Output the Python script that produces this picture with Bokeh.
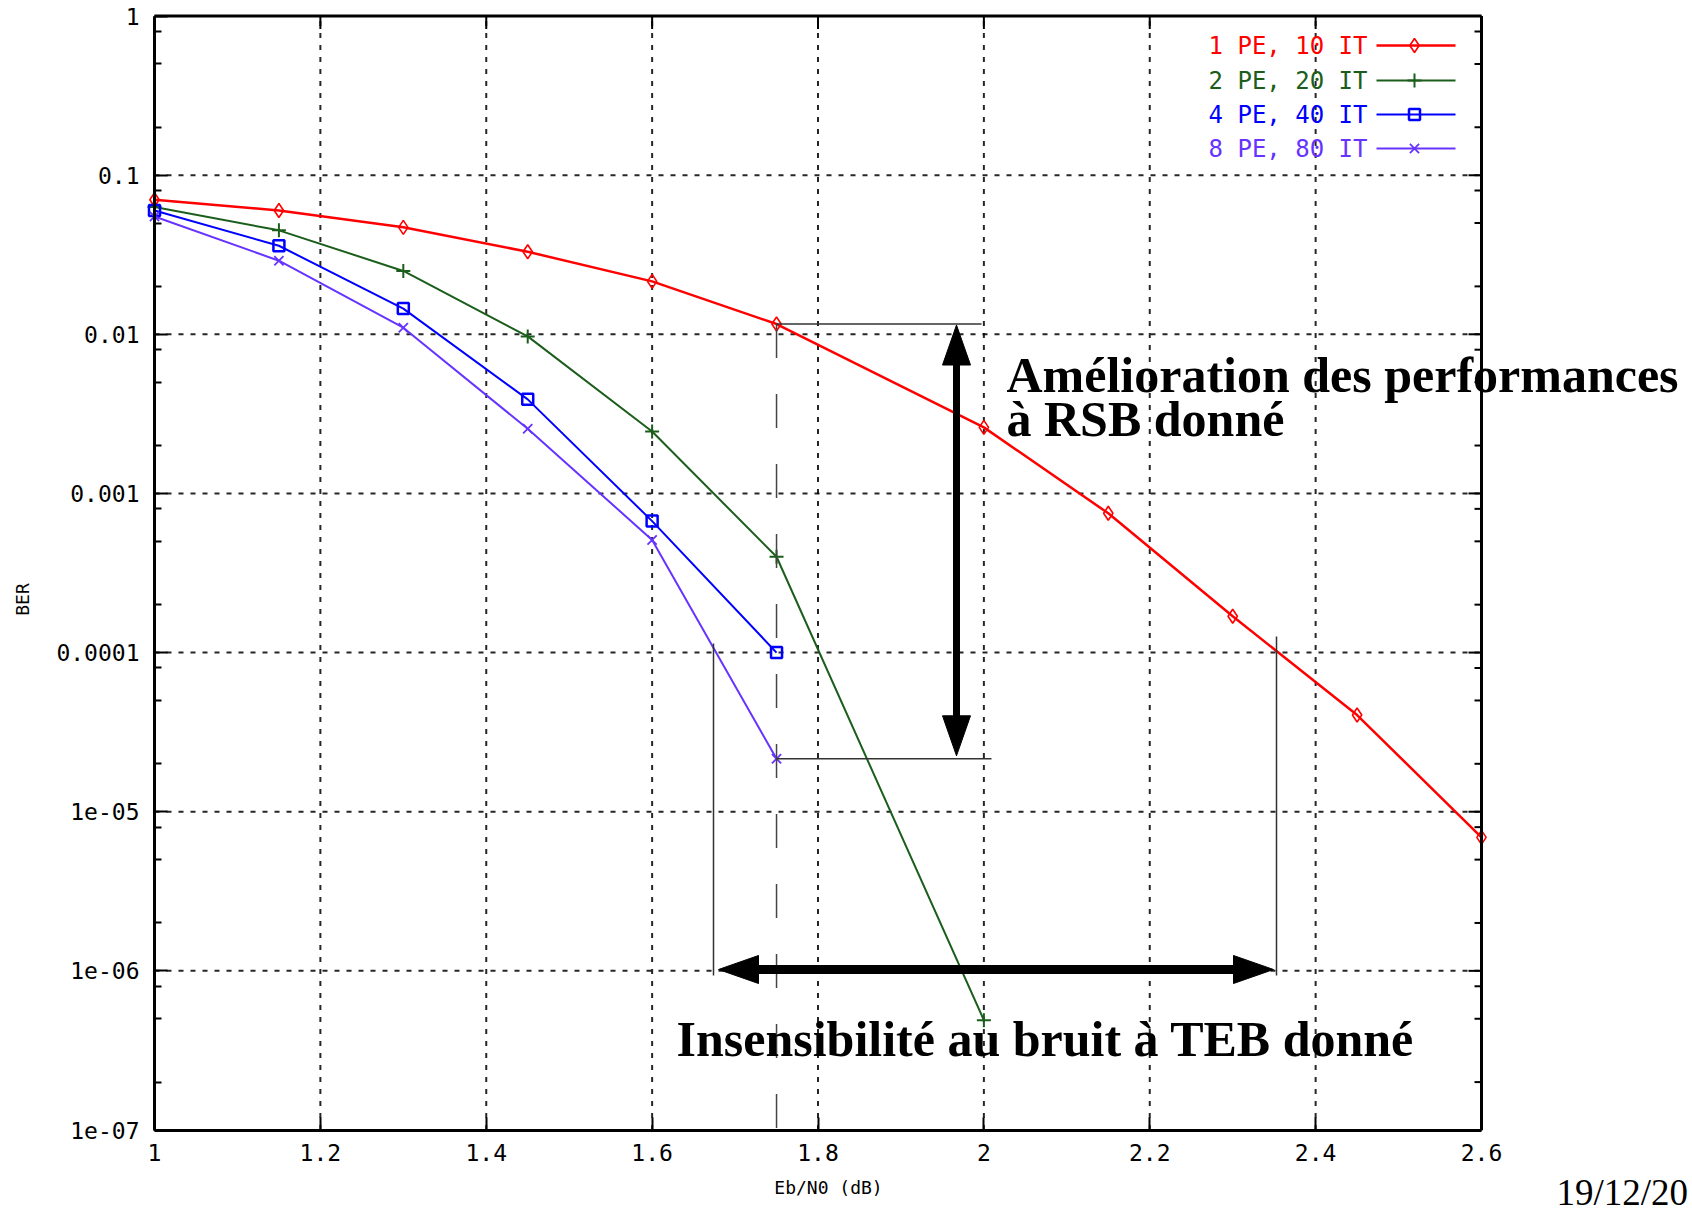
import math
from bokeh.plotting import figure
from bokeh.models import Range1d, FixedTicker, Label, LinearAxis, LogAxis
from bokeh.embed import file_html
from bokeh.resources import INLINE

# ---------------- data ----------------
eb_n0_1pe = [1.0, 1.15, 1.3, 1.45, 1.6, 1.75, 2.0, 2.15, 2.3, 2.45, 2.6]
ber_1pe = [0.070, 0.060, 0.047, 0.033, 0.0215, 0.0116, 0.0026, 7.5e-4, 1.69e-4, 4.05e-5, 6.9e-6]
eb_n0_2pe = [1.0, 1.15, 1.3, 1.45, 1.6, 1.75, 2.0]
ber_2pe = [0.063, 0.045, 0.025, 0.0097, 0.00245, 4.0e-4, 4.9e-7]
eb_n0_4pe = [1.0, 1.15, 1.3, 1.45, 1.6, 1.75]
ber_4pe = [0.060, 0.036, 0.0145, 0.0039, 6.7e-4, 1.0e-4]
eb_n0_8pe = [1.0, 1.15, 1.3, 1.45, 1.6, 1.75]
ber_8pe = [0.055, 0.029, 0.011, 0.00255, 5.1e-4, 2.15e-5]
series_labels = ["1 PE, 10 IT", "2 PE, 20 IT", "4 PE, 40 IT", "8 PE, 80 IT"]

x_ticks = [1.0, 1.2, 1.4, 1.6, 1.8, 2.0, 2.2, 2.4, 2.6]
x_tick_labels = ["1", "1.2", "1.4", "1.6", "1.8", "2", "2.2", "2.4", "2.6"]
y_ticks = [1.0, 0.1, 0.01, 0.001, 0.0001, 1e-05, 1e-06, 1e-07]
y_tick_labels = ["1", "0.1", "0.01", "0.001", "0.0001", "1e-05", "1e-06", "1e-07"]
y_minor_ticks = [m * 10.0 ** k for k in range(-7, 0) for m in (2, 5, 8)]

x_title = "Eb/N0 (dB)"
y_title = "BER"
annot_top_text = ["Amélioration des performances", "à RSB donné"]
annot_bottom_text = "Insensibilité au bruit à TEB donné"
date_text = "19/12/20"

# ---------------- layout ----------------
X0, X1 = 1.0, 2.6
Y0, Y1 = 1e-7, 1.0
TOTAL_W, TOTAL_H = 1692, 1228
PLOT_L, PLOT_T = 154, 15.5      # pixel position of x=1 / y=1
PLOT_W, PLOT_H = 1327, 1114     # pixel size of the data box 1..2.6 x 1e-7..1
NDEC = math.log10(Y1) - math.log10(Y0)
# the frame covers the whole canvas so that nothing (labels, annotations) is clipped
X_START = X0 - PLOT_L / PLOT_W * (X1 - X0)
X_END = X0 + (TOTAL_W - PLOT_L) / PLOT_W * (X1 - X0)
Y_END = 10 ** (math.log10(Y1) + PLOT_T / PLOT_H * NDEC)
Y_START = 10 ** (math.log10(Y0) - (TOTAL_H - PLOT_T - PLOT_H) / PLOT_H * NDEC)


def dx(px):
    return X0 + (px - PLOT_L) / PLOT_W * (X1 - X0)


def dy(py_):
    return 10 ** (math.log10(Y1) - (py_ - PLOT_T) / PLOT_H * NDEC)


def py(v):
    return PLOT_T + (math.log10(Y1) - math.log10(v)) / NDEC * PLOT_H


def sx(px):
    return px


def sy(py_):
    return TOTAL_H - py_


MONO = "DejaVu Sans Mono"
SERIF = "Liberation Serif"

p = figure(
    x_range=Range1d(X_START, X_END), y_range=Range1d(Y_START, Y_END), y_axis_type="log",
    x_axis_location=None, y_axis_location=None,
    frame_width=TOTAL_W, frame_height=TOTAL_H,
    min_border_left=0, min_border_top=0, min_border_right=0, min_border_bottom=0,
    output_backend="svg", toolbar_location=None,
    background_fill_color="white", border_fill_color="white",
    outline_line_color=None,
)
for g in p.grid:
    g.visible = False

xticker = FixedTicker(ticks=x_ticks, minor_ticks=[])
yticker = FixedTicker(ticks=y_ticks, minor_ticks=y_minor_ticks)

xa = LinearAxis(fixed_location=Y0, bounds=(X0, X1), ticker=xticker)
ya = LogAxis(fixed_location=X0, bounds=(Y0, Y1), ticker=yticker)
p.add_layout(xa, "below")
p.add_layout(ya, "left")
xa.major_label_overrides = dict(zip(x_ticks, x_tick_labels))
ya.major_label_overrides = dict(zip(y_ticks, y_tick_labels))

for ax in (xa, ya):
    ax.axis_line_width = 3
    ax.axis_line_color = "black"
    ax.major_tick_in = 13
    ax.major_tick_out = 0
    ax.minor_tick_in = 7
    ax.minor_tick_out = 0
    ax.major_tick_line_width = 2
    ax.minor_tick_line_width = 2
    ax.major_label_text_font = MONO
    ax.major_label_text_font_size = "23px"
    ax.major_label_text_color = "black"

xa.major_label_standoff = 14
ya.major_label_standoff = 15

# axis titles
p.add_layout(Label(x=sx(828), y=sy(1187), x_units="screen", y_units="screen", text=x_title,
                   text_align="center", text_baseline="middle", text_font=MONO,
                   text_font_size="18px", text_color="black"))
p.add_layout(Label(x=sx(22), y=sy(599), x_units="screen", y_units="screen", text=y_title,
                   angle=math.pi / 2, text_align="center", text_baseline="middle", text_font=MONO,
                   text_font_size="18px", text_color="black"))

# ---------------- grid (dotted, at the major ticks) ----------------
GRID = dict(line_color="black", line_alpha=0.85, line_width=2, line_dash="5 7")
p.segment(x0=x_ticks, y0=[Y0] * len(x_ticks), x1=x_ticks, y1=[Y1] * len(x_ticks), **GRID)
p.segment(x0=[X0] * len(y_ticks), y0=y_ticks, x1=[X1] * len(y_ticks), y1=y_ticks, **GRID)

# ---------------- series ----------------
RED, GREEN, BLUE, PURPLE = "#ff0000", "#1b5e1b", "#0000ff", "#6633ff"
specs = [
    (eb_n0_1pe, ber_1pe, RED, "diamond", 14, 1.6, 2.5),
    (eb_n0_2pe, ber_2pe, GREEN, "cross", 14, 2.0, 2.0),
    (eb_n0_4pe, ber_4pe, BLUE, "square", 11, 2.5, 2.0),
    (eb_n0_8pe, ber_8pe, PURPLE, "x", 13, 1.8, 2.0),
]
for xs, ys, c, mk, sz, mlw, lw in specs:
    p.line(xs, ys, line_color=c, line_width=lw)
    p.scatter(xs, ys, marker=mk, size=sz, line_color=c, line_width=mlw, fill_color=None)

# ---------------- border of the data box, mirrored ticks ----------------
p.line([X0, X1], [Y1, Y1], line_color="black", line_width=3)
p.line([X1, X1], [Y0, Y1], line_color="black", line_width=3)
right_px = PLOT_L + PLOT_W
p.segment(x0=x_ticks, y0=[Y1] * len(x_ticks), x1=x_ticks, y1=[dy(PLOT_T + 13)] * len(x_ticks),
          line_color="black", line_width=2)
p.segment(x0=[X1] * len(y_ticks), y0=y_ticks, x1=[dx(right_px - 13)] * len(y_ticks),
          y1=y_ticks, line_color="black", line_width=2)
p.segment(x0=[X1] * len(y_minor_ticks), y0=y_minor_ticks,
          x1=[dx(right_px - 7)] * len(y_minor_ticks), y1=y_minor_ticks,
          line_color="black", line_width=2)

# ---------------- legend (manual, gnuplot style) ----------------
leg_rows = [45, 80, 114, 148]
for (xs, ys, c, mk, sz, mlw, lw), lab, ry in zip(specs, series_labels, leg_rows):
    p.add_layout(Label(x=sx(1367), y=sy(ry), x_units="screen", y_units="screen", text=lab,
                       text_align="right", text_baseline="middle",
                       text_font=MONO, text_font_size="24px", text_color=c))
    p.line([dx(1376), dx(1455)], [dy(ry), dy(ry)], line_color=c, line_width=lw)
    p.scatter([dx(1414)], [dy(ry)], marker=mk, size=sz, line_color=c, line_width=mlw, fill_color=None)

# ---------------- annotations ----------------
ANN = "#333333"
x_ref = eb_n0_1pe[5]            # 1.75 dB
top_lvl = ber_1pe[5]            # BER of 1 PE at 1.75 dB
bot_lvl = ber_8pe[5]            # BER of 8 PE at 1.75 dB

p.line([x_ref, x_ref], [top_lvl, Y0], line_color="#444444", line_width=1.5, line_dash="34 36")
p.line([x_ref, dx(981)], [top_lvl, top_lvl], line_color=ANN, line_width=1.5)
p.line([x_ref, dx(991)], [bot_lvl, bot_lvl], line_color=ANN, line_width=1.5)
p.line([dx(713)] * 2, [dy(643), dy(975)], line_color=ANN, line_width=1.5)
p.line([dx(1276)] * 2, [dy(636), dy(975)], line_color=ANN, line_width=1.5)

HL, HW = 40, 28  # arrow head length / width in px

vx = 956
vt, vb = py(top_lvl) + 1, py(bot_lvl) - 3
p.line([dx(vx), dx(vx)], [dy(vt + HL - 2), dy(vb - HL + 2)], line_color="black", line_width=7)
p.patch([dx(vx), dx(vx - HW / 2), dx(vx + HW / 2)], [dy(vt), dy(vt + HL), dy(vt + HL)],
        fill_color="black", line_color="black")
p.patch([dx(vx), dx(vx - HW / 2), dx(vx + HW / 2)], [dy(vb), dy(vb - HL), dy(vb - HL)],
        fill_color="black", line_color="black")

hy = 969
hl, hr = 718, 1273
p.line([dx(hl + HL - 2), dx(hr - HL + 2)], [dy(hy), dy(hy)], line_color="black", line_width=9)
p.patch([dx(hl), dx(hl + HL), dx(hl + HL)], [dy(hy), dy(hy - HW / 2), dy(hy + HW / 2)],
        fill_color="black", line_color="black")
p.patch([dx(hr), dx(hr - HL), dx(hr - HL)], [dy(hy), dy(hy - HW / 2), dy(hy + HW / 2)],
        fill_color="black", line_color="black")

for t, mid in zip(annot_top_text, [374, 418]):
    p.add_layout(Label(x=sx(1006), y=sy(mid), x_units="screen", y_units="screen", text=t,
                       text_align="left", text_baseline="middle",
                       text_font=SERIF, text_font_style="bold", text_font_size="50px", text_color="black"))
p.add_layout(Label(x=sx(676), y=sy(1038), x_units="screen", y_units="screen", text=annot_bottom_text,
                   text_align="left", text_baseline="middle", text_font=SERIF, text_font_style="bold",
                   text_font_size="50px", text_color="black"))
p.add_layout(Label(x=sx(1556), y=sy(1192), x_units="screen", y_units="screen", text=date_text,
                   text_align="left", text_baseline="middle", text_font=SERIF, text_font_size="37px",
                   text_color="black"))

open("out.html", "w").write(file_html(p, INLINE))
